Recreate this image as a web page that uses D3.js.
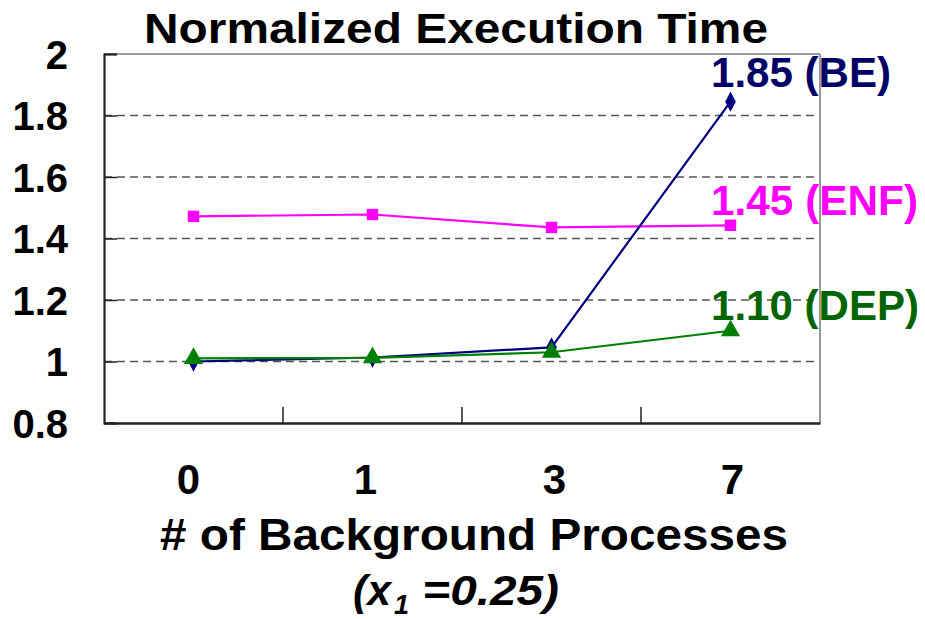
<!DOCTYPE html>
<html><head><meta charset="utf-8">
<script src="https://cdn.jsdelivr.net/npm/d3@7"></script>
<style>body{margin:0;background:#fff}svg{display:block}text{font-family:"Liberation Sans",Arial,sans-serif;font-weight:bold}</style>
</head><body><svg id="c" width="925" height="619"></svg>
<script>
const categories = ["0","1","3","7"];
const beValues  = [1.00, 1.013, 1.046, 1.845];
const enfValues = [1.472, 1.478, 1.436, 1.443];
const depValues = [1.01, 1.012, 1.03, 1.10];
const yTicks = [0.8, 1, 1.2, 1.4, 1.6, 1.8, 2];
const gridTicks = [1, 1.2, 1.4, 1.6, 1.8];
const seriesNames = ["BE","ENF","DEP"];
const endLabels = ["1.85 (BE)","1.45 (ENF)","1.10 (DEP)"];

const svg = d3.select("#c");
const L=104, R=820, T=54, B=423;
const x = d3.scaleBand().domain(categories).range([L,R]);
const y = d3.scaleLinear().domain([0.8,2]).range([B,T]);

// gridlines
svg.append("g").selectAll("line").data(gridTicks).join("line")
  .attr("x1",L).attr("x2",R).attr("y1",d=>y(d)).attr("y2",d=>y(d))
  .attr("stroke","#555").attr("stroke-width",1.3).attr("stroke-dasharray","8,5");

// frame: top and right gray
svg.append("line").attr("x1",L).attr("x2",R).attr("y1",T).attr("y2",T).attr("stroke","#999").attr("stroke-width",2);
svg.append("line").attr("x1",R).attr("x2",R).attr("y1",T).attr("y2",B).attr("stroke","#999").attr("stroke-width",2);

// y axis
const yAxis = d3.axisLeft(y).tickValues(yTicks).tickSize(-13).tickPadding(36).tickFormat(d3.format("~g"));
const gy = svg.append("g").attr("transform",`translate(${L},0)`).call(yAxis);
gy.select(".domain").attr("stroke","#222").attr("stroke-width",2.2);
gy.selectAll(".tick line").attr("stroke","#222").attr("stroke-width",1.5);
gy.selectAll("text").attr("font-size",40).attr("fill","#000").attr("dy","0.36em")
  .attr("font-family","'Liberation Sans',Arial,sans-serif").attr("font-weight","bold");

// x axis
const xAxis = d3.axisBottom(x).tickSize(0);
const gx = svg.append("g").attr("transform",`translate(0,${B})`).call(xAxis);
gx.select(".domain").attr("stroke","#222").attr("stroke-width",2.5);
gx.selectAll("text").attr("font-size",42).attr("fill","#000").attr("y",494-B).attr("dy",0)
  .attr("dx",(d,i)=>[-5,-7,3,2][i])
  .attr("font-family","'Liberation Sans',Arial,sans-serif").attr("font-weight","bold");
// band boundary ticks (inside)
svg.append("g").selectAll("line").data(categories.slice(1)).join("line")
  .attr("x1",d=>x(d)).attr("x2",d=>x(d)).attr("y1",B).attr("y2",B-16)
  .attr("stroke","#222").attr("stroke-width",1.5);

const cx = d => x(d)+x.bandwidth()/2;
const line = d3.line().x((d,i)=>cx(categories[i])).y(d=>y(d));

const colors = {BE:"#000080", ENF:"#ff00ff", DEP:"#008000"};
const data = {BE:beValues, ENF:enfValues, DEP:depValues};

["ENF","BE","DEP"].forEach(name=>{
  svg.append("path").datum(data[name]).attr("d",line)
    .attr("fill","none").attr("stroke",colors[name]).attr("stroke-width",2.2);
});
// markers
const sym = {BE:d3.symbolDiamond, ENF:d3.symbolSquare, DEP:d3.symbolTriangle};
const sz = {BE:120, ENF:130, DEP:160};
["ENF","BE","DEP"].forEach(name=>{
  svg.append("g").selectAll("path").data(data[name]).join("path")
    .attr("d",d3.symbol().type(sym[name]).size(sz[name]))
    .attr("transform",(d,i)=>`translate(${cx(categories[i])},${y(d)})`+(name==="BE"?" scale(0.9,1)":""))
    .attr("fill",colors[name]);
});

// end labels (baselines)
const labelBaselines = [87, 215, 320];
const labelWidths = [180, 207, 208];
seriesNames.forEach((name,i)=>{
  svg.append("text").attr("x",711).attr("y",labelBaselines[i]).attr("font-size",42)
    .attr("textLength",labelWidths[i]).attr("lengthAdjust","spacingAndGlyphs")
    .attr("fill", name==="DEP" ? "#006400" : name==="BE" ? "#000066" : colors[name]).text(endLabels[i]);
});

// title
svg.append("text").attr("x",144).attr("y",43).attr("font-size",43)
  .attr("textLength",624).attr("lengthAdjust","spacingAndGlyphs")
  .attr("fill","#000").text("Normalized Execution Time");
// axis title
svg.append("text").attr("x",160).attr("y",550).attr("font-size",45)
  .attr("textLength",628).attr("lengthAdjust","spacingAndGlyphs")
  .attr("fill","#000").text("# of Background Processes");
const sub = svg.append("text").attr("x",353).attr("y",605).attr("font-size",42)
  .attr("font-style","italic").attr("fill","#000");
sub.append("tspan").attr("textLength",38).attr("lengthAdjust","spacingAndGlyphs").text("(x");
sub.append("tspan").attr("font-size",27).attr("dy",9).attr("dx",3).text("1");
sub.append("tspan").attr("dy",-9).attr("textLength",150).attr("lengthAdjust","spacingAndGlyphs").text(" =0.25)");
</script></body></html>
